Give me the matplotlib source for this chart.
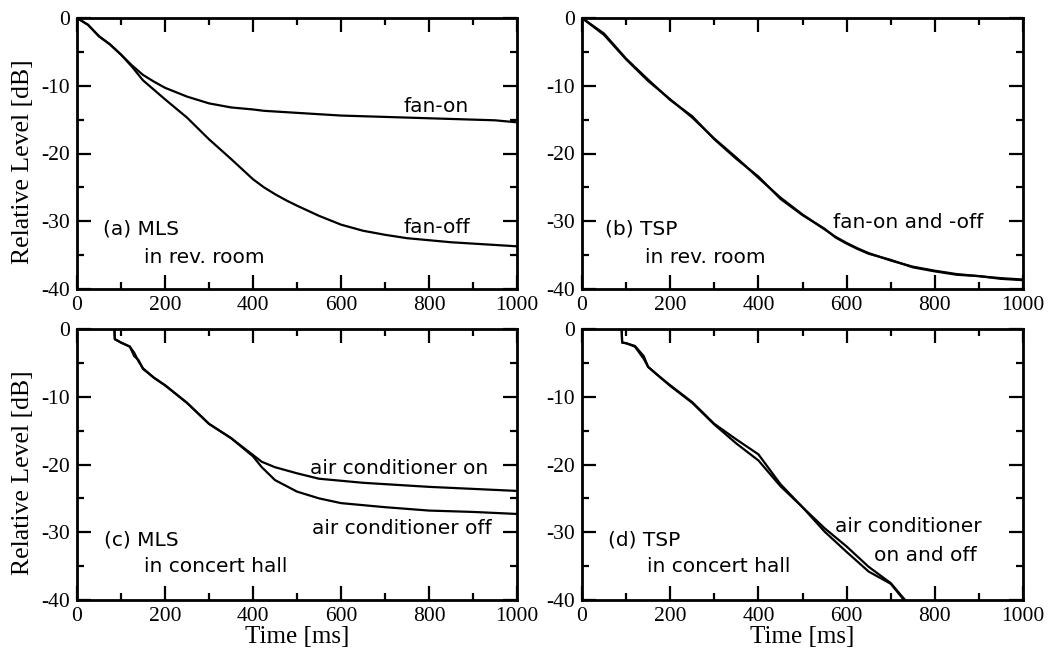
import matplotlib
matplotlib.use("Agg")
import matplotlib.pyplot as plt
from matplotlib.ticker import MultipleLocator

plt.rcParams['axes.unicode_minus'] = False

# ---- data ----
t_a = [0, 25, 50, 75, 100, 125, 150, 175, 200, 250, 300, 350, 400, 425, 450,
       475, 500, 550, 600, 650, 700, 750, 800, 850, 900, 950, 1000]
a_fan_off = [0, -1.0, -2.7, -3.9, -5.4, -7.2, -9.2, -10.6, -12.0, -14.7, -17.9,
             -20.8, -23.8, -25.0, -26.0, -26.9, -27.7, -29.2, -30.5, -31.4,
             -32.0, -32.5, -32.8, -33.1, -33.3, -33.5, -33.7]
a_fan_on = [0, -1.0, -2.7, -3.9, -5.4, -7.0, -8.4, -9.4, -10.3, -11.6, -12.6,
            -13.2, -13.5, -13.7, -13.8, -13.9, -14.0, -14.2, -14.4, -14.5,
            -14.6, -14.7, -14.8, -14.9, -15.0, -15.1, -15.4]

t_b = [0, 50, 100, 150, 200, 250, 300, 350, 400, 450, 500, 550, 575, 600, 625,
       650, 700, 750, 800, 850, 900, 950, 1000]
b_fan_on = [0, -2.5, -6.1, -9.3, -12.0, -14.7, -17.8, -20.6, -23.6, -26.5,
            -29.0, -31.2, -32.3, -33.2, -34.0, -34.7, -35.8, -36.7, -37.3,
            -37.8, -38.1, -38.4, -38.6]
b_fan_off = [0, -2.3, -6.0, -9.1, -12.1, -14.5, -17.9, -20.8, -23.4, -26.7,
             -29.1, -31.1, -32.4, -33.3, -34.1, -34.8, -35.7, -36.8, -37.4,
             -37.9, -38.1, -38.5, -38.7]

t_c = [0, 85, 86, 100, 120, 130, 140, 150, 175, 200, 250, 300, 350, 400, 420,
       450, 500, 550, 600, 650, 700, 800, 900, 1000]
c_ac_on = [0, 0, -1.5, -2.0, -2.6, -3.5, -4.8, -5.8, -7.2, -8.3, -10.9, -14.0,
           -16.1, -18.6, -19.6, -20.4, -21.3, -22.1, -22.4, -22.7, -22.9,
           -23.3, -23.6, -23.9]
c_ac_off = [0, 0, -1.5, -2.0, -2.6, -4.0, -4.6, -5.9, -7.2, -8.3, -10.9, -14.0,
            -16.1, -18.8, -20.4, -22.3, -24.0, -25.0, -25.7, -26.0, -26.3,
            -26.8, -27.0, -27.3]

t_d = [0, 90, 91, 100, 120, 140, 150, 175, 200, 250, 300, 350, 400, 450, 500,
       550, 600, 650, 700, 730, 760]
d_ac_on = [0, 0, -2.0, -2.1, -2.5, -4.0, -5.6, -7.0, -8.3, -10.8, -14.0, -16.3,
           -18.5, -22.9, -26.3, -29.4, -32.1, -35.1, -37.5, -39.8, -42.0]
d_ac_off = [0, 0, -2.0, -2.1, -2.6, -4.4, -5.6, -7.0, -8.4, -10.9, -14.1, -16.9,
            -19.4, -23.2, -26.3, -29.9, -32.9, -35.8, -37.6, -40.0, -42.0]

x_ticks = [0, 200, 400, 600, 800, 1000]
y_ticks = [0, -10, -20, -30, -40]

SERIF = 'Liberation Serif'
SANS = 'DejaVu Sans'

fig = plt.figure(figsize=(10.52, 6.53), dpi=100)
W, H = 1052, 653
def ax_at(x0, y0, x1, y1):
    return fig.add_axes([x0 / W, 1 - y1 / H, (x1 - x0) / W, (y1 - y0) / H])

axA = ax_at(77, 18, 517, 289)
axB = ax_at(582, 18, 1023, 289)
axC = ax_at(77, 329, 517, 600)
axD = ax_at(582, 329, 1023, 600)

for ax in (axA, axB, axC, axD):
    ax.set_xlim(0, 1000)
    ax.set_ylim(-40, 0)
    ax.set_xticks(x_ticks)
    ax.set_yticks(y_ticks)
    ax.xaxis.set_minor_locator(MultipleLocator(100))
    ax.yaxis.set_minor_locator(MultipleLocator(5))
    ax.tick_params(which='both', direction='in', top=True, right=True,
                   width=1.6, labelsize=15.5, pad=5)
    ax.tick_params(which='major', length=10)
    ax.tick_params(which='minor', length=5)
    for lab in ax.get_xticklabels() + ax.get_yticklabels():
        lab.set_fontfamily(SERIF)
    for s in ax.spines.values():
        s.set_linewidth(2.0)

lw = 1.6
axA.plot(t_a, a_fan_on, color='black', lw=lw)
axA.plot(t_a, a_fan_off, color='black', lw=lw)
axB.plot(t_b, b_fan_on, color='black', lw=lw)
axB.plot(t_b, b_fan_off, color='black', lw=lw)
axC.plot(t_c, c_ac_on, color='black', lw=lw)
axC.plot(t_c, c_ac_off, color='black', lw=lw)
axD.plot(t_d, d_ac_on, color='black', lw=lw)
axD.plot(t_d, d_ac_off, color='black', lw=lw)

fs = 14.5
def note(ax, x, y, s):
    ax.text(x, y, s, fontsize=fs, family=SANS, ha='left', va='center')

note(axA, 58, -31.1, '(a) MLS')
note(axA, 152, -35.3, 'in rev. room')
note(axA, 743, -13.0, 'fan-on')
note(axA, 743, -30.9, 'fan-off')

note(axB, 52, -31.1, '(b) TSP')
note(axB, 142, -35.3, 'in rev. room')
note(axB, 569, -30.2, 'fan-on and -off')

note(axC, 62, -31.1, '(c) MLS')
note(axC, 152, -35.1, 'in concert hall')
note(axC, 529, -20.6, 'air conditioner on')
note(axC, 533, -29.4, 'air conditioner off')

note(axD, 59, -31.1, '(d) TSP')
note(axD, 148, -35.1, 'in concert hall')
note(axD, 573, -29.2, 'air conditioner')
note(axD, 663, -33.4, 'on and off')

for ax in (axA, axC):
    ax.set_ylabel('Relative Level [dB]', fontsize=18.5, family=SERIF)
    ax.yaxis.set_label_coords(-0.098, 0.47)
for ax in (axC, axD):
    ax.set_xlabel('Time [ms]', fontsize=18, family=SERIF, labelpad=0)

fig.savefig('out.png', dpi=100)
